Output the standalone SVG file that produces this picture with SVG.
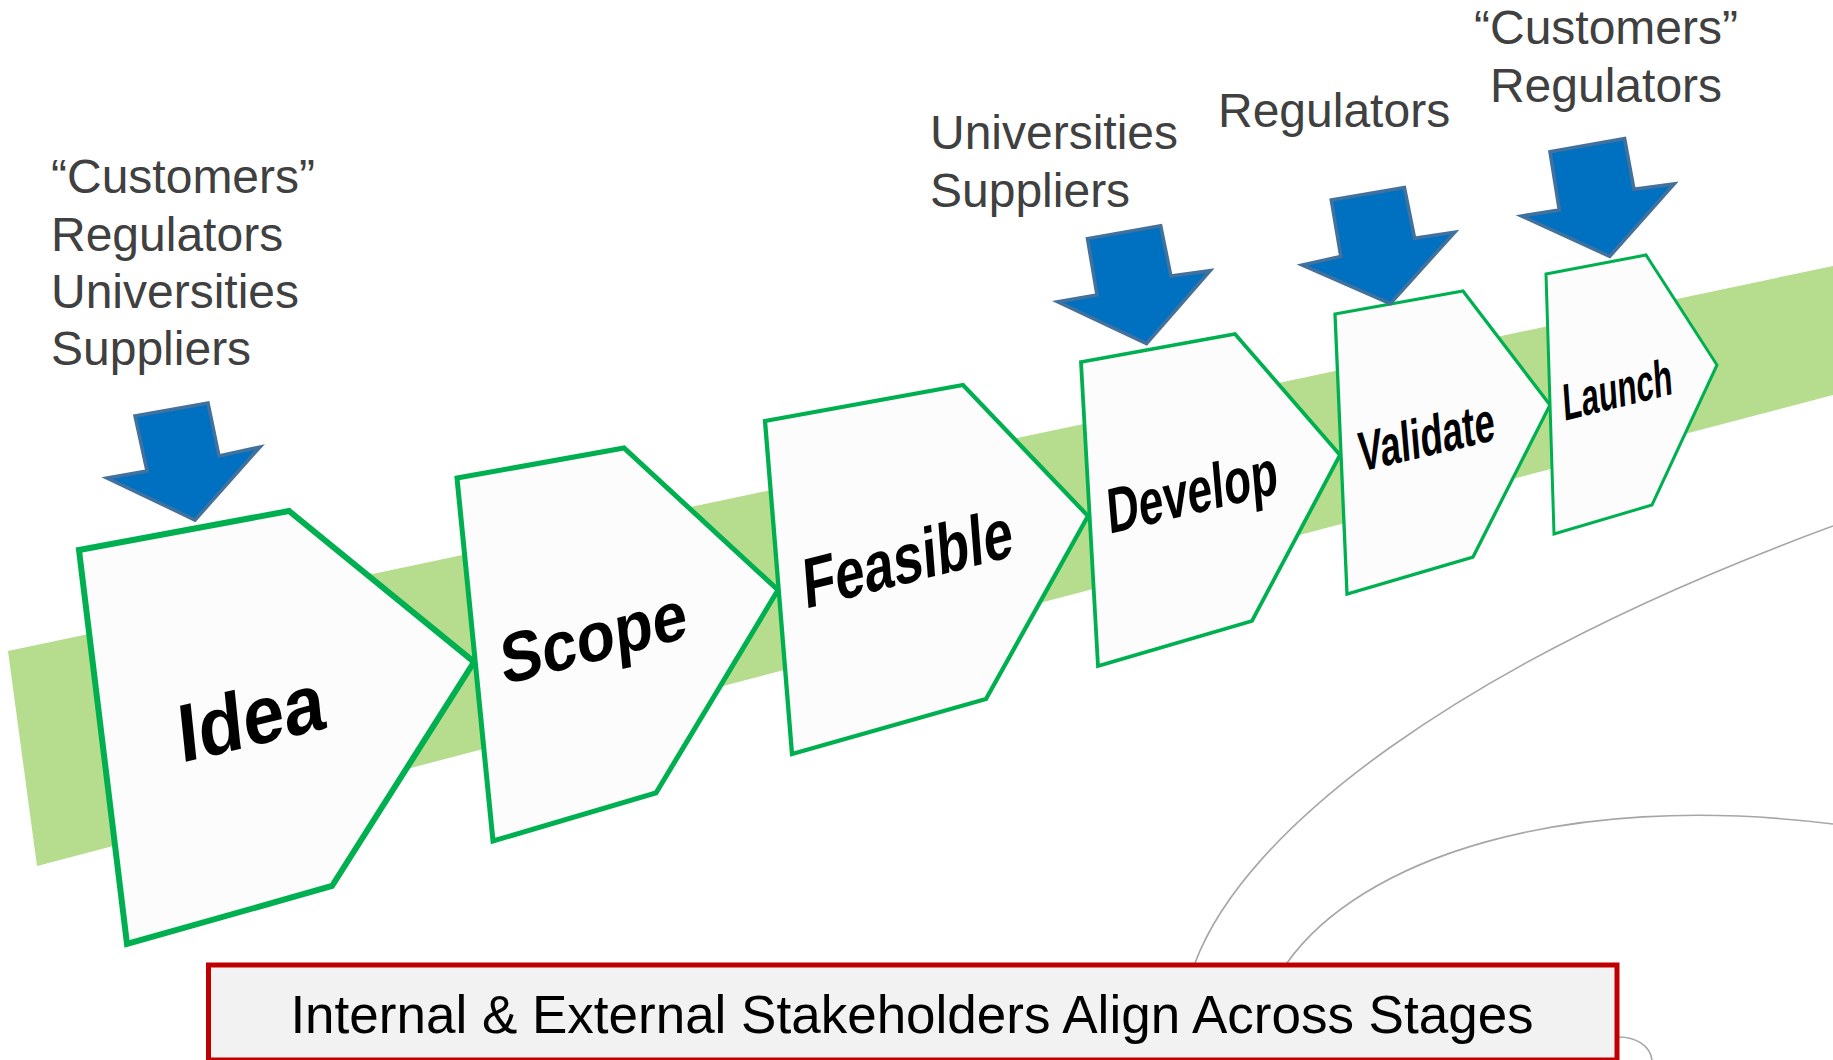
<svg xmlns="http://www.w3.org/2000/svg" width="1833" height="1060" viewBox="0 0 1833 1060">
<style>
.lbl{font-family:"Liberation Sans",Arial,sans-serif;fill:#404040;font-size:48px}
.stage{fill:#fcfcfc;stroke:#00b050;stroke-linejoin:miter}
.st{font-family:"Liberation Sans",Arial,sans-serif;font-weight:bold;fill:#000}
.arr{fill:#0070c0;stroke:#41719c;stroke-width:3.5;stroke-linejoin:miter}
.curve{fill:none;stroke:#a6a6a6;stroke-width:1.6}
</style>
<rect width="1833" height="1060" fill="#ffffff"/>
<g id="band">
<polygon points="8,651 1833,266 1833,395 37,866" fill="#b6dc8e"/>
</g>
<g id="connectors">
<path class="curve" d="M1195,963 C1245,830 1455,665 1833,526"/>
<path class="curve" d="M1287,963 C1360,860 1560,790 1833,824"/>
<path class="curve" d="M1619,1037 C1635,1037 1650,1045 1652,1060"/>
</g>
<g id="stage-idea">
<polygon class="stage" stroke-width="6" points="79,550 289,511 474,662 332,886 127,944"/>
<text class="st" font-size="75" transform="matrix(0.9724 -0.2334 0.1124 1.0873 181 763)">Idea</text>
</g>
<g id="stage-scope">
<polygon class="stage" stroke-width="5" points="457,478 624,448 778,590 656,793 493,841"/>
<text class="st" font-size="64" transform="matrix(0.9686 -0.2487 0.1086 1.0886 503 685)">Scope</text>
</g>
<g id="stage-feasible">
<polygon class="stage" stroke-width="4.3" points="765,421 963,385 1088,516 986,699 792,754"/>
<text class="st" font-size="54" transform="matrix(0.9694 -0.2453 0.1032 1.311 805 609)">Feasible</text>
</g>
<g id="stage-develop">
<polygon class="stage" stroke-width="3.8" points="1081,362 1235,334 1340,455 1252,621 1098,666"/>
<text class="st" font-size="45" transform="matrix(0.9724 -0.2334 0.124 1.4166 1109 534)">Develop</text>
</g>
<g id="stage-validate">
<polygon class="stage" stroke-width="3.3" points="1335,314 1463,291 1550,405 1473,557 1347,594"/>
<text class="st" font-size="37" transform="matrix(0.9732 -0.23 0.132 1.508 1360 472)">Validate</text>
</g>
<g id="stage-launch">
<polygon class="stage" stroke-width="3" points="1546,274 1646,255 1717,365 1652,505 1554,534"/>
<text class="st" font-size="31.7" transform="matrix(0.9707 -0.2402 0.117 1.636 1564 421)">Launch</text>
</g>
<g id="arrow-idea">
<polygon class="arr" points="135,416 208,403 219,456 260,447 195,520 107,478 147,471"/>
</g>
<g id="arrow-develop">
<polygon class="arr" points="1087.5,238.6 1160.7,225.7 1170.9,276 1210.2,270.7 1146.5,343.6 1057.7,301.8 1097,295"/>
</g>
<g id="arrow-validate">
<polygon class="arr" points="1331.3,200 1404.4,187.5 1414.6,238.2 1454.8,232.1 1390.3,303.6 1302.2,265 1340.8,256.4"/>
</g>
<g id="arrow-launch">
<polygon class="arr" points="1550,151.8 1624.6,138.6 1634,189.3 1674.2,183.9 1609.7,256.4 1521.6,216 1559.3,210"/>
</g>
<g id="labels-idea">
<text class="lbl" x="51" y="193">“Customers”</text>
<text class="lbl" x="51" y="251">Regulators</text>
<text class="lbl" x="51" y="308">Universities</text>
<text class="lbl" x="51" y="365">Suppliers</text>
</g>
<g id="labels-develop">
<text class="lbl" x="930" y="149">Universities</text>
<text class="lbl" x="930" y="207">Suppliers</text>
</g>
<g id="labels-validate">
<text class="lbl" x="1218" y="127">Regulators</text>
</g>
<g id="labels-launch">
<text class="lbl" x="1606" y="44" text-anchor="middle">“Customers”</text>
<text class="lbl" x="1606" y="102" text-anchor="middle">Regulators</text>
</g>
<g id="banner">
<rect x="208.5" y="965" width="1408.5" height="95" fill="#f2f2f2" stroke="#c00000" stroke-width="5"/>
<text x="912" y="1033" text-anchor="middle" font-family="'Liberation Sans',Arial,sans-serif" font-size="53" fill="#000">Internal &amp; External Stakeholders Align Across Stages</text>
</g>
</svg>
